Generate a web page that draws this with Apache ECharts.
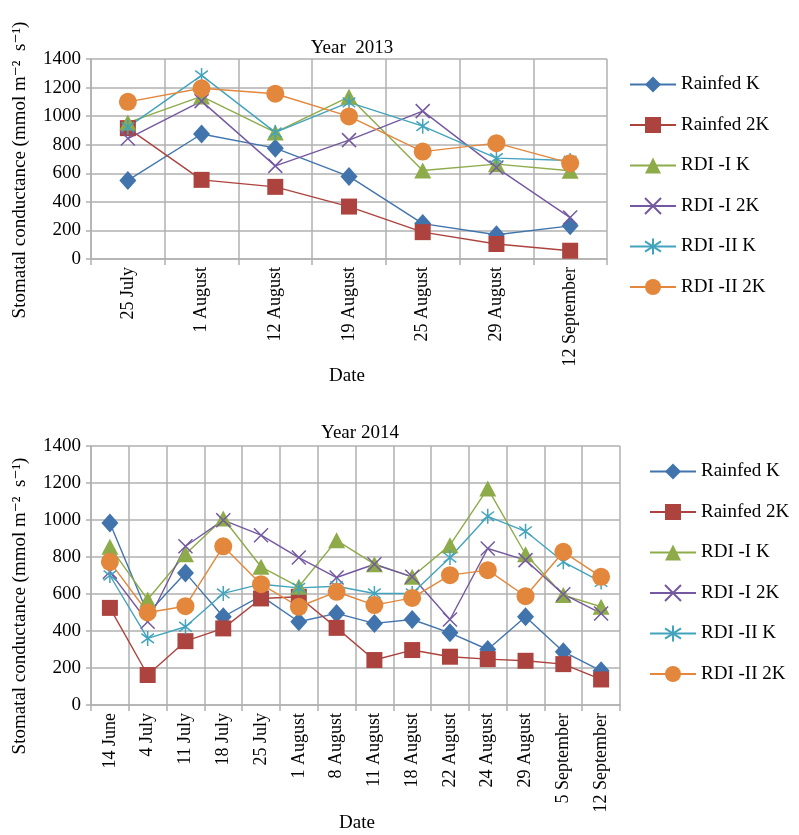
<!DOCTYPE html>
<html>
<head>
<meta charset="utf-8">
<script src="https://cdn.jsdelivr.net/npm/echarts@6.0.0/dist/echarts.min.js"></script>
<style>
  html, body { margin: 0; padding: 0; background: #fff; }
  #chart { width: 799px; height: 835px; }
</style>
</head>
<body>
<div id="chart"></div>
<script>
// categories
var dates2013 = ['25 July', '1 August', '12 August', '19 August', '25 August', '29 August', '12 September'];
var dates2014 = ['14 June', '4 July', '11 July', '18 July', '25 July', '1 August', '8 August', '11 August',
  '18 August', '22 August', '24 August', '29 August', '5 September', '12 September'];

var seriesNames = ['Rainfed K', 'Rainfed 2K', 'RDI -I K', 'RDI -I 2K', 'RDI -II K', 'RDI -II 2K'];

// year 2013 values (mmol m-2 s-1)
var rainfedK2013 = [550, 875, 776, 578, 248, 170, 232];
var rainfed2K2013 = [916, 554, 505, 367, 188, 105, 58];
var rdi1K2013 = [955, 1138, 886, 1135, 620, 664, 618];
var rdi12K2013 = [843, 1105, 652, 832, 1035, 640, 290];
var rdi2K2013 = [923, 1285, 886, 1096, 930, 706, 689];
var rdi22K2013 = [1100, 1195, 1157, 998, 752, 811, 671];

// year 2014 values
var rainfedK2014 = [984, 495, 714, 477, 590, 450, 495, 441, 462, 390, 300, 477, 288, 185];
var rainfed2K2014 = [525, 162, 345, 414, 576, 585, 417, 243, 297, 261, 248, 239, 221, 138];
var rdi1K2014 = [855, 570, 815, 1008, 747, 639, 890, 761, 693, 864, 1170, 815, 594, 531];
var rdi12K2014 = [720, 450, 858, 999, 918, 797, 689, 761, 693, 462, 846, 783, 599, 495];
var rdi2K2014 = [700, 360, 423, 603, 653, 633, 642, 603, 603, 797, 1020, 939, 774, 665];
var rdi22K2014 = [774, 500, 534, 858, 653, 531, 612, 540, 579, 702, 729, 588, 828, 693];

var colors = ['#4174ad', '#ac433f', '#8eab4a', '#7459a0', '#42a3bd', '#e2873b'];
var symbols = ['diamond', 'rect', 'triangle',
  'path://M0,0L10,10M10,0L0,10',
  'path://M5,0L5,10M0.8,1.8L9.2,8.2M9.2,1.8L0.8,8.2',
  'circle'];
var symbolSizes = [[17, 19], 16, [17, 16], 14, 15, 18];

var fontFam = '"Liberation Serif", "DejaVu Serif", serif';
var gridColor = '#b0b0b0';

var chartDom = document.getElementById('chart');
var myChart = echarts.init(chartDom);

function makeSeries(idx, data, gi) {
  var stroked = idx === 3 || idx === 4;
  return {
    name: seriesNames[idx],
    type: 'line',
    xAxisIndex: gi,
    yAxisIndex: gi,
    data: data,
    symbol: symbols[idx],
    symbolSize: symbolSizes[idx],
    symbolKeepAspect: true,
    showAllSymbol: true,
    animation: false,
    lineStyle: { color: colors[idx], width: 1.4 },
    itemStyle: {
      color: colors[idx],
      borderColor: colors[idx],
      borderWidth: stroked ? 1.5 : 0,
      opacity: 1
    },
    emphasis: { disabled: true }
  };
}

function xAxisCfg(cats, gi) {
  return {
    type: 'category',
    gridIndex: gi,
    data: cats,
    boundaryGap: true,
    axisLine: { lineStyle: { color: gridColor, width: 1.5 } },
    axisTick: { show: true, length: 6, inside: false, lineStyle: { color: gridColor, width: 1.5 } },
    splitLine: { show: true, lineStyle: { color: gridColor, width: 1.5 } },
    axisLabel: { rotate: 90, margin: 8, color: '#000', fontSize: 18, fontFamily: fontFam, interval: 0 }
  };
}

function yAxisCfg(gi) {
  return {
    type: 'value',
    gridIndex: gi,
    min: 0,
    max: 1400,
    interval: 200,
    axisLine: { show: true, lineStyle: { color: gridColor, width: 1.5 } },
    axisTick: { show: true, length: 5, lineStyle: { color: gridColor, width: 1.5 } },
    splitLine: { show: true, lineStyle: { color: gridColor, width: 1.5 } },
    axisLabel: {
      color: '#000', fontSize: 19, fontFamily: fontFam, margin: 10,
      formatter: function (v) { return String(v); }
    }
  };
}

function legendCfg(left, top) {
  return {
    orient: 'vertical',
    left: left,
    top: top,
    padding: 0,
    itemWidth: 46,
    itemHeight: 20,
    itemGap: 21.5,
    selectedMode: false,
    data: seriesNames,
    textStyle: { color: '#000', fontSize: 19, fontFamily: fontFam }
  };
}

var yLabel = 'Stomatal conductance (mmol m\u207B\u00B2  s\u207B\u00B9)';

var option = {
  animation: false,
  backgroundColor: '#fff',
  title: [
    { text: 'Year  2013', left: 347, top: 34, textAlign: 'center',
      textStyle: { fontSize: 19, fontWeight: 'normal', color: '#000', fontFamily: fontFam } },
    { text: 'Year 2014', left: 355, top: 419, textAlign: 'center',
      textStyle: { fontSize: 19, fontWeight: 'normal', color: '#000', fontFamily: fontFam } }
  ],
  grid: [
    { left: 91, top: 59, width: 516, height: 200 },
    { left: 91, top: 446, width: 529, height: 259 }
  ],
  xAxis: [xAxisCfg(dates2013, 0), xAxisCfg(dates2014, 1)],
  yAxis: [yAxisCfg(0), yAxisCfg(1)],
  legend: [legendCfg(629, 75), legendCfg(649, 462)],
  graphic: [
    { type: 'text', x: 20, y: 170, rotation: Math.PI / 2,
      style: { text: yLabel, fontSize: 19, fontFamily: fontFam, fill: '#000', align: 'center', verticalAlign: 'middle' } },
    { type: 'text', x: 20, y: 606, rotation: Math.PI / 2,
      style: { text: yLabel, fontSize: 19, fontFamily: fontFam, fill: '#000', align: 'center', verticalAlign: 'middle' } },
    { type: 'text', x: 347, y: 376,
      style: { text: 'Date', fontSize: 19, fontFamily: fontFam, fill: '#000', align: 'center', verticalAlign: 'middle' } },
    { type: 'text', x: 357, y: 823,
      style: { text: 'Date', fontSize: 19, fontFamily: fontFam, fill: '#000', align: 'center', verticalAlign: 'middle' } }
  ],
  series: []
};

var set2013 = [rainfedK2013, rainfed2K2013, rdi1K2013, rdi12K2013, rdi2K2013, rdi22K2013];
var set2014 = [rainfedK2014, rainfed2K2014, rdi1K2014, rdi12K2014, rdi2K2014, rdi22K2014];
for (var i = 0; i < 6; i++) option.series.push(makeSeries(i, set2013[i], 0));
for (var j = 0; j < 6; j++) option.series.push(makeSeries(j, set2014[j], 1));

option && myChart.setOption(option);
</script>
</body>
</html>
